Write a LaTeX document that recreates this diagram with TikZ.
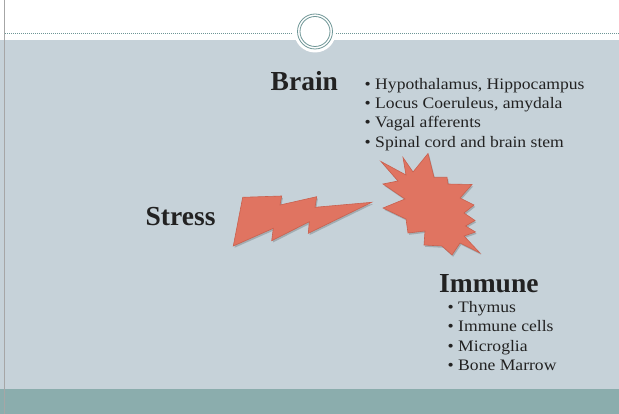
\documentclass[tikz,border=0pt]{standalone}
\usepackage{fontspec}
\setmainfont{Liberation Serif}
\newfontfamily\bodyfont{Liberation Serif}[FakeStretch=1.1]
\definecolor{slidebg}{HTML}{C6D2D9}
\definecolor{barteal}{HTML}{8BADAD}
\definecolor{ringteal}{HTML}{6E9696}
\definecolor{shapefill}{HTML}{E07461}
\definecolor{shapeedge}{HTML}{C9604E}
\definecolor{txt}{HTML}{222222}
\tikzset{
  heading/.style={anchor=base west,inner sep=0pt,text=txt,font=\fontsize{27.5}{30}\selectfont\bfseries},
  bullettext/.style={anchor=base west,inner sep=0pt,text=txt,font=\bodyfont\fontsize{16}{18}\selectfont},
  blob/.style={fill=shapefill,draw=shapeedge,line width=0.6pt,line join=miter},
  blobshadow/.style={fill=black,opacity=0.18,draw=none},
}
\begin{document}
\begin{tikzpicture}[x=1pt,y=-1pt]
\useasboundingbox (0,0) rectangle (619,414);
% backgrounds
\fill[white] (0,0) rectangle (619,414);
\fill[slidebg] (0,40.5) rectangle (619,389);
\fill[barteal] (0,389) rectangle (619,414);
\draw[gray!70,line width=0.6pt] (4.5,0) -- (4.5,414);
% dashed rule with gap for ornament
\draw[ringteal,line width=0.6pt,dash pattern=on 1pt off 1pt] (5,33) -- (292,33);
\draw[ringteal,line width=0.6pt,dash pattern=on 1pt off 1pt] (336,33) -- (619,33);
% ornament circle
\fill[white] (315,31.5) circle (21);
\draw[ringteal,line width=0.8pt] (315,31.5) circle (17.5);
\draw[ringteal,line width=0.8pt] (315,31.5) circle (15);
% lightning bolt
\def\boltpath{(233.3,246) -- (242.7,197.3) -- (281.7,196) -- (280,205) -- (316.7,196.7) -- (315,207.3) -- (371.7,202.3) -- (308.3,233.3) -- (309.3,221.7) -- (271.7,240.7) -- (273.3,228.3) -- cycle}
\fill[blobshadow,shift={(1.2,1.8)}] \boltpath;
\draw[blob] \boltpath;
% starburst
\def\burstpath{(381,161.5) -- (406,175) -- (403,157.5) -- (413,172) -- (428,153.5) -- (434,177.3) -- (447,177.3) -- (448,184) -- (472,184.5) -- (460,198) -- (474,205) -- (464,213) -- (475,220.5) -- (465.5,226) -- (475.5,232) -- (464,236) -- (480,253) -- (460,243) -- (452,255) -- (442,246) -- (424,245) -- (425,231) -- (408,233) -- (406,219) -- (383,208) -- (405,199) -- (383,184) -- (398,181) -- cycle}
\fill[blobshadow,shift={(1.2,1.8)}] \burstpath;
\draw[blob] \burstpath;
% texts
\node[heading] (brain) at (270.5,91) {Brain};
\node[heading] (stress) at (145.5,225.7) {Stress};
\node[heading] (immune) at (439,292.7) {Immune};
\node[bullettext] (b1) at (364.5,89.3) {\textbullet\ Hypothalamus, Hippocampus};
\node[bullettext] (b2) at (364.5,108.6) {\textbullet\ Locus Coeruleus, amydala};
\node[bullettext] (b3) at (364.5,127.9) {\textbullet\ Vagal afferents};
\node[bullettext] (b4) at (364.5,147.2) {\textbullet\ Spinal cord and brain stem};
\node[bullettext] (i1) at (447.5,312.7) {\textbullet\ Thymus};
\node[bullettext] (i2) at (447.5,332.0) {\textbullet\ Immune cells};
\node[bullettext] (i3) at (447.5,351.3) {\textbullet\ Microglia};
\node[bullettext] (i4) at (447.5,370.6) {\textbullet\ Bone Marrow};
\end{tikzpicture}
\end{document}
